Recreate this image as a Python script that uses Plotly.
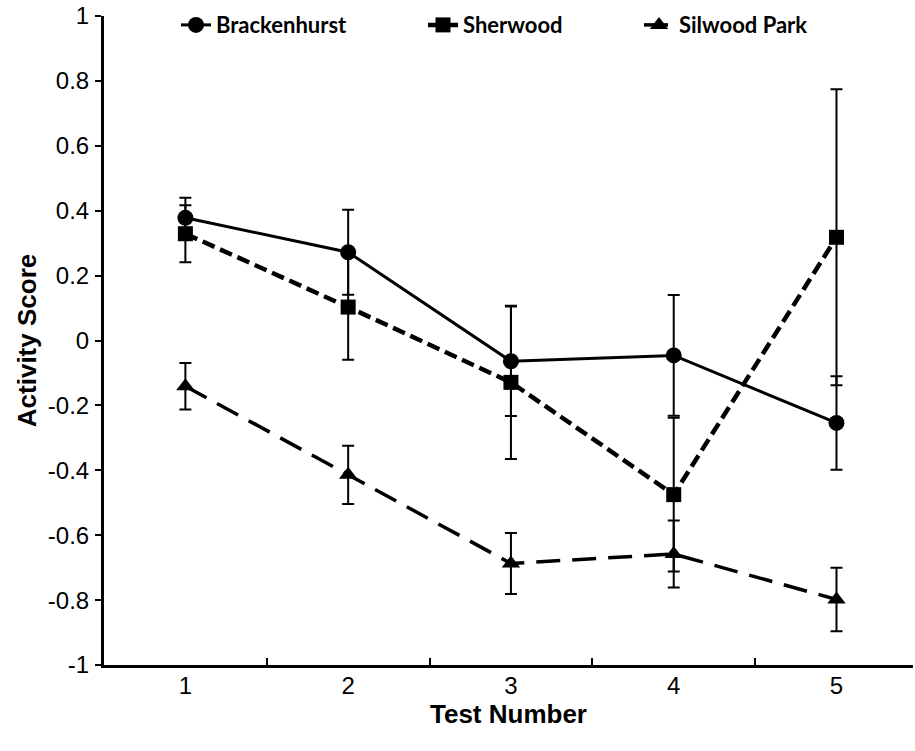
import plotly.graph_objects as go

# ---- data ----
tests = [1, 2, 3, 4, 5]
test_labels = ["1", "2", "3", "4", "5"]
boundaries = [1.5, 2.5, 3.5, 4.5]

brackenhurst = [0.378, 0.272, -0.064, -0.046, -0.254]
brackenhurst_err = [0.062, 0.131, 0.169, 0.186, 0.144]

sherwood = [0.329, 0.103, -0.129, -0.475, 0.318]
sherwood_err = [0.088, 0.162, 0.236, 0.237, 0.456]

silwood = [-0.141, -0.414, -0.687, -0.658, -0.798]
silwood_err = [0.072, 0.090, 0.094, 0.103, 0.098]

y_ticks = [1, 0.8, 0.6, 0.4, 0.2, 0, -0.2, -0.4, -0.6, -0.8, -1]
y_tick_labels = ["1", "0.8", "0.6", "0.4", "0.2", "0", "-0.2", "-0.4", "-0.6", "-0.8", "-1"]

BLACK = "#000000"
PLOT_L, PLOT_R = 104, 913

def err(vals):
    return dict(type="data", array=vals, visible=True, color=BLACK, thickness=2, width=6)

fig = go.Figure()
fig.add_trace(go.Scatter(
    x=tests, y=brackenhurst, name="Brackenhurst", mode="lines+markers",
    line=dict(color=BLACK, width=3, dash="solid"),
    marker=dict(symbol="circle", size=16, color=BLACK),
    error_y=err(brackenhurst_err), legend="legend",
))
fig.add_trace(go.Scatter(
    x=tests, y=sherwood, name="Sherwood", mode="lines+markers",
    line=dict(color=BLACK, width=4.5, dash="13px,6px"),
    marker=dict(symbol="square", size=15, color=BLACK),
    error_y=err(sherwood_err), legend="legend2",
))
fig.add_trace(go.Scatter(
    x=tests, y=silwood, name="Silwood Park", mode="lines+markers",
    line=dict(color=BLACK, width=3.5, dash="24px,12px"),
    marker=dict(symbol="triangle-up", size=16, color=BLACK),
    error_y=err(silwood_err), legend="legend3",
))

tick_font = dict(family="Liberation Sans, Arial, sans-serif", size=24, color=BLACK)
title_font = dict(family="Liberation Sans, Arial, sans-serif", size=26, color=BLACK, weight="bold")
legend_font = dict(family="Lato, Carlito, Calibri, sans-serif", size=22, color=BLACK, weight="bold")

def px_to_paper(px):
    return (px - PLOT_L) / (PLOT_R - PLOT_L)

def legend_at(px):
    return dict(
        orientation="h", x=px_to_paper(px), xanchor="left", y=0.986, yanchor="middle",
        font=legend_font, bgcolor="rgba(0,0,0,0)",
    )

fig.update_layout(
    width=915, height=751,
    margin=dict(l=PLOT_L, r=915 - PLOT_R, t=16, b=86),
    paper_bgcolor="white", plot_bgcolor="white",
    showlegend=True,
    legend=legend_at(176),
    legend2=legend_at(423),
    legend3=legend_at(639),
    xaxis=dict(
        range=[0.5, 5.47], tickmode="array", tickvals=tests, ticktext=test_labels,
        ticks="", showgrid=False, zeroline=False,
        showline=True, linecolor=BLACK, linewidth=3,
        tickfont=tick_font, ticklabelstandoff=-3,
        minor=dict(tickmode="array", tickvals=boundaries, ticks="inside",
                   ticklen=7, tickwidth=2, tickcolor=BLACK, showgrid=False),
        title=dict(text="Test Number", font=title_font, standoff=0),
    ),
    yaxis=dict(
        range=[-1, 1], tickmode="array", tickvals=y_ticks, ticktext=y_tick_labels,
        ticks="outside", ticklen=6, tickwidth=2, tickcolor=BLACK,
        showgrid=False, zeroline=False,
        showline=True, linecolor=BLACK, linewidth=3,
        tickfont=tick_font, ticklabelstandoff=1,
        title=dict(text="Activity Score", font=title_font, standoff=4),
    ),
)

fig.write_html("out.html")
